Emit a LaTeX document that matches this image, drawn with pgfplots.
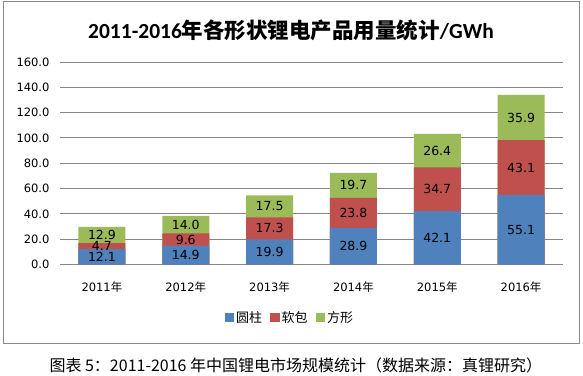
\documentclass[border=0pt]{standalone}
\usepackage{pgfplots}
\pgfplotsset{compat=1.18}
\usepackage{pgfplotstable}
\usepackage{fontspec}
\setmainfont{DejaVu Sans}
\newfontfamily\cjk{Noto Sans CJK SC}
\newfontfamily\calfont{Carlito}
\definecolor{cblue}{HTML}{4F81BD}
\definecolor{cred}{HTML}{C0504D}
\definecolor{cgreen}{HTML}{9BBB59}
\definecolor{gridc}{RGB}{134,134,134}
\definecolor{framec}{RGB}{137,137,137}
% a = 圆柱, b = 软包, c = 方形; ab, abc = stack tops; ma, mb, mc = segment middles (label positions)
\pgfplotstableread{
x a b c ab abc ma mb mc
0 12.1 4.7 12.9 16.8 29.7 6.05 14.45 23.25
1 14.9 9.6 14.0 24.5 38.5 7.45 19.7 31.5
2 19.9 17.3 17.5 37.2 54.7 9.95 28.55 45.95
3 28.9 23.8 19.7 52.7 72.4 14.45 40.8 62.55
4 42.1 34.7 26.4 76.8 103.2 21.05 59.45 90.0
5 55.1 43.1 35.9 98.2 134.1 27.55 76.65 116.15
}\data
\pgfplotsset{lbl/.style={draw=none, fill=none, forget plot,
  point meta=explicit symbolic, nodes near coords,
  every node near coord/.append style={anchor=center, font=\fontsize{12.5}{14}\selectfont, text=black}}}
\begin{document}
\begin{tikzpicture}
\path[use as bounding box] (0pt,0pt) rectangle (583pt,375pt);
\draw[framec, line width=1pt] (3pt,32pt) rectangle (579pt,373pt);
\node[font=\calfont\bfseries\fontsize{21.5}{24}\selectfont] at (291pt,344.5pt) {2011-2016{\cjk\bfseries 年各形状锂电产品用量统计}/GWh};
\begin{axis}[
  at={(60pt,110.5pt)}, anchor=south west,
  scale only axis, width=503pt, height=202.5pt,
  ybar, bar width=47pt, bar shift=0pt,
  xmin=-0.5, xmax=5.5, ymin=0, ymax=160,
  xtick={0,1,2,3,4,5},
  xticklabels={2011{\cjk 年},2012{\cjk 年},2013{\cjk 年},2014{\cjk 年},2015{\cjk 年},2016{\cjk 年}},
  ytick={0,20,...,160},
  ymajorgrids,
  major grid style={draw=gridc, line width=0.9pt},
  axis x line*=bottom, axis y line*=left,
  axis line style={draw=none},
  major tick style={draw=none},
  tick label style={font=\fontsize{11.5}{13}\selectfont},
  /pgf/number format/assume math mode=true,
  yticklabel style={xshift=-7pt, /pgf/number format/fixed, /pgf/number format/fixed zerofill, /pgf/number format/precision=1},
  xticklabel style={yshift=-9pt},
  legend style={at={(0.457,-0.264)}, anchor=center, draw=none, legend columns=3,
    font=\cjk\fontsize{13}{15}\selectfont,
    /tikz/every even column/.append style={column sep=6pt}},
  legend image code/.code={\fill[#1,draw=none] (0pt,-4.5pt) rectangle (9.5pt,5pt);},
]
\addlegendimage{fill=cblue, draw=none}
\addlegendentry{圆柱}
\addlegendimage{fill=cred, draw=none}
\addlegendentry{软包}
\addlegendimage{fill=cgreen, draw=none}
\addlegendentry{方形}
\addplot[fill=cgreen, draw=none, forget plot] table[x=x,y=abc] {\data};
\addplot[fill=cred, draw=none, forget plot] table[x=x,y=ab] {\data};
\addplot[fill=cblue, draw=none, forget plot] table[x=x,y=a] {\data};
\addplot[lbl] table[x=x,y=ma,meta=a] {\data};
\addplot[lbl] table[x=x,y=mb,meta=b] {\data};
\addplot[lbl] table[x=x,y=mc,meta=c] {\data};
\end{axis}
\node[anchor=west, font=\cjk\fontsize{16}{18}\selectfont] at (46pt,10pt) {图表 5：2011-2016 年中国锂电市场规模统计（数据来源：真锂研究）};
\end{tikzpicture}
\end{document}
